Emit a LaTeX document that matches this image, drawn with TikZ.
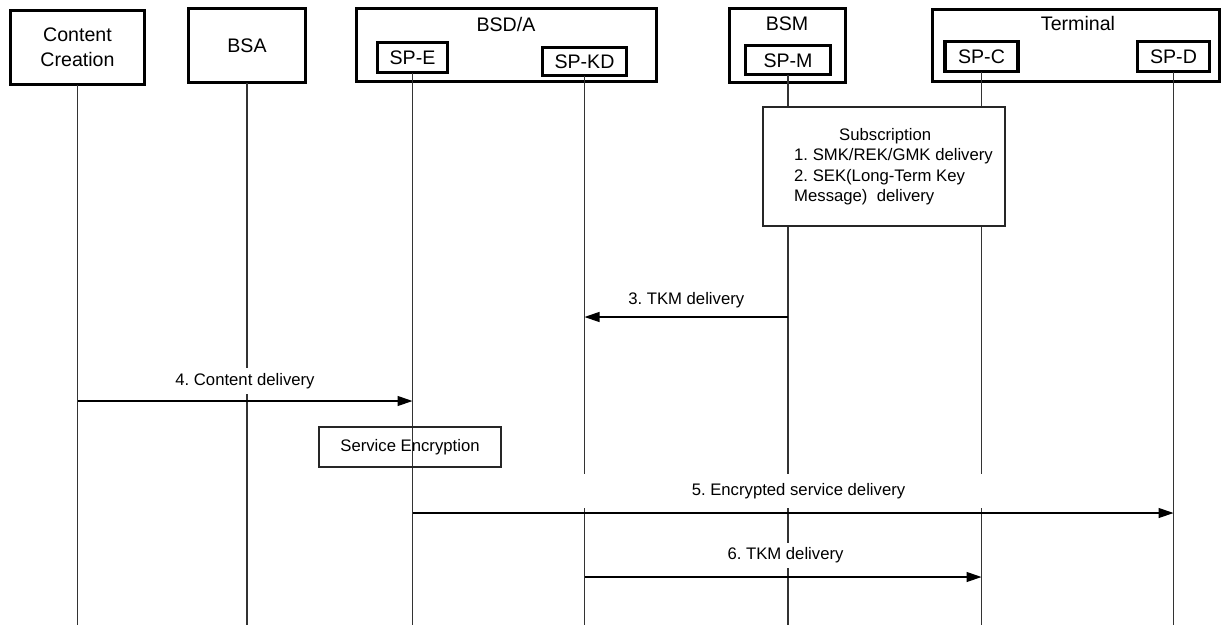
\documentclass[tikz,border=0pt]{standalone}
\usepackage{fontspec}
\setmainfont{Liberation Sans}
\usetikzlibrary{arrows.meta}
\newcommand\diagbig{\fontsize{19.6pt}{25pt}\selectfont}
\newcommand\diagsmall{\fontsize{16.7pt}{20.5pt}\selectfont}
\frenchspacing
\begin{document}
\begin{tikzpicture}[x=1pt,y=-1pt,
  bigbox/.style={draw, line width=3.2pt, inner sep=0pt, outer sep=0pt, font=\diagbig, align=center},
  spbox/.style={draw, line width=3.2pt, inner sep=0pt, outer sep=0pt, font=\diagbig, text height=14pt, text depth=0pt},
  title/.style={font=\diagbig, anchor=base, inner sep=0pt},
  life/.style={line width=1.2pt, draw=black!80},
  msg/.style={line width=1.2pt, -{Triangle[length=15pt,width=10pt]}},
  lbl/.style={font=\diagsmall, fill=white, inner sep=3pt, text height=12pt, text depth=3.5pt},
  plainbox/.style={draw, line width=1.2pt, inner sep=0pt, draw=black!85}
]
\useasboundingbox (0,0) rectangle (1226,630);
\fill[white] (0,0) rectangle (1226,630);

% outer boxes
\node[bigbox, minimum width=134pt, minimum height=74pt] (cc) at (77.5,47.5) {Content\\Creation};
\node[bigbox, minimum width=117pt, minimum height=74pt] (bsa) at (247,45.5) {BSA};
\node[bigbox, minimum width=300pt, minimum height=73pt] (bsda) at (506.5,45) {};
\node[bigbox, minimum width=116pt, minimum height=74pt] (bsm) at (787.5,45.5) {};
\node[bigbox, minimum width=287pt, minimum height=72pt] (term) at (1076,45.5) {};
\node[title] (bsdat) at (506,31) {BSD/A};
\node[title] (bsmt) at (787,30) {BSM};
\node[title] (termt) at (1078,30) {Terminal};

% inner boxes
\node[spbox, minimum width=70pt, minimum height=30pt] (spe) at (412.5,57.5) {SP-E};
\node[spbox, minimum width=84pt, minimum height=28pt] (spkd) at (584.5,61.5) {SP-KD};
\node[spbox, minimum width=85pt, minimum height=29pt] (spm) at (788,60) {SP-M};
\node[spbox, minimum width=73pt, minimum height=30pt] (spc) at (981.5,56.5) {SP-C};
\node[spbox, minimum width=72pt, minimum height=30pt] (spd) at (1173.5,56.5) {SP-D};

% lifelines
\coordinate (bot) at (0,625);
\foreach \n in {cc,bsa,spe,spkd,spm,spc,spd}
  \draw[life] (\n.south) -- (\n.south |- bot);

% subscription box
\node[plainbox, fill=white, minimum width=242pt, minimum height=119pt] (sub) at (884,166.5) {};
\node[font=\diagsmall, align=left, anchor=north west, inner sep=0pt] (subtxt) at (794,128)
  {\hspace*{45pt}Subscription\\1. SMK/REK/GMK delivery\\2. SEK(Long-Term Key\\Message)\ \ delivery};

% service encryption
\node[plainbox, minimum width=182pt, minimum height=40pt, font=\diagsmall] (senc) at (410,447) {Service Encryption};

% messages
\coordinate (y3) at (0,317);
\coordinate (y4) at (0,401);
\coordinate (y5) at (0,513);
\coordinate (y6) at (0,577);
\draw[msg] (spm.south |- y3) -- node[lbl, yshift=17pt] (l3) {3. TKM delivery} (spkd.south |- y3);
\draw[msg] (cc.south |- y4) -- node[lbl, yshift=20pt, minimum height=26pt] (l4) {4. Content delivery} (spe.south |- y4);
\draw[msg] (spe.south |- y5) -- node[lbl, yshift=22pt, xshift=5.5pt, minimum height=34pt, minimum width=450pt] (l5) {5. Encrypted service delivery} (spd.south |- y5);
\draw[msg] (spkd.south |- y6) -- node[lbl, yshift=22pt, xshift=2.5pt, minimum height=25pt] (l6) {6. TKM delivery} (spc.south |- y6);
\end{tikzpicture}
\end{document}
